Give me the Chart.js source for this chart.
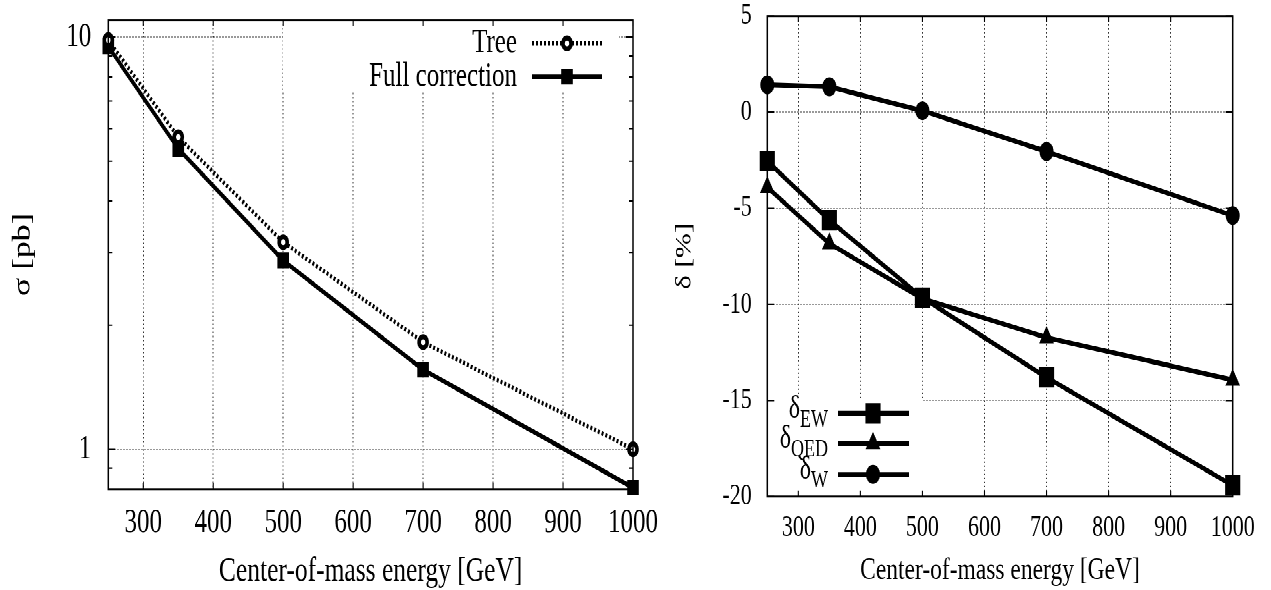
<!DOCTYPE html>
<html>
<head>
<meta charset="utf-8">
<script src="https://cdn.jsdelivr.net/npm/chart.js@4.4.0/dist/chart.umd.min.js"></script>
<style>
html,body{margin:0;padding:0;background:#fff;overflow:hidden;width:1271px;height:590px;}
#stage{position:absolute;left:0;top:0;width:1271px;height:437px;transform:scaleY(1.35);transform-origin:0 0;}
#c1{position:absolute;left:0;top:0;width:700px;height:437px;}
#c2{position:absolute;left:645px;top:0;width:626px;height:437px;}
</style>
</head>
<body>
<div id="stage">
<canvas id="c1" width="700" height="437"></canvas>
<canvas id="c2" width="626" height="437"></canvas>
</div>
<script>
// ---------- data ----------
const energies = [250, 350, 500, 700, 1000];
const sigmaTree = [9.83, 5.72, 3.18, 1.82, 1.00];
const sigmaFull = [9.49, 5.36, 2.87, 1.56, 0.807];
const deltaEW  = [-2.55, -5.62, -9.65, -13.8, -19.41];
const deltaQED = [-3.91, -6.84, -9.7, -11.72, -13.93];
const deltaW   = [1.42, 1.32, 0.07, -2.05, -5.38];

const xTickValues = [300, 400, 500, 600, 700, 800, 900, 1000];
const sigmaMajorTicks = [1, 10];
const sigmaMinorTicks = [0.9, 2, 3, 4, 5, 6, 7, 8, 9];
const deltaTickValues = [-20, -15, -10, -5, 0, 5];

const sigmaLabels = ['Tree', 'Full correction'];
const deltaMain = ['δ', 'δ', 'δ'];
const deltaSub = ['EW', 'QED', 'W'];
const xTitle = 'Center-of-mass energy [GeV]';
const sigmaTitle = 'σ [pb]';
const deltaTitle = 'δ [%]';

// ---------- helpers ----------
const FONT = 'Liberation Serif';
Chart.defaults.font.family = FONT;
Chart.defaults.color = '#000';

function pts(ys) { return energies.map((e, i) => ({x: e, y: ys[i]})); }

const gnuFrame = {
  id: 'gnuFrame',
  beforeDatasetsDraw(chart, args, o) {
    const ctx = chart.ctx;
    if (o.keyBox) {
      const b = o.keyBox;
      ctx.save();
      ctx.fillStyle = '#fff';
      ctx.fillRect(b.x0, b.y0, b.x1 - b.x0, b.y1 - b.y0);
      ctx.restore();
    }
  },
  afterDatasetsDraw(chart, args, o) {
    const {ctx, chartArea: a} = chart;
    const xs = chart.scales.x, ys = chart.scales.y;
    ctx.save();
    ctx.strokeStyle = '#000';
    ctx.setLineDash([]);
    ctx.lineWidth = 1.1;
    ctx.beginPath();
    o.xMajor.forEach(v => {
      const p = xs.getPixelForValue(v);
      ctx.moveTo(p, a.bottom); ctx.lineTo(p, a.bottom - o.tx);
      ctx.moveTo(p, a.top); ctx.lineTo(p, a.top + o.tx);
    });
    o.yMajor.forEach(v => {
      const p = ys.getPixelForValue(v);
      ctx.moveTo(a.left, p); ctx.lineTo(a.left + o.ty, p);
      ctx.moveTo(a.right, p); ctx.lineTo(a.right - o.ty, p);
    });
    (o.yMinor || []).forEach(v => {
      const p = ys.getPixelForValue(v);
      ctx.moveTo(a.left, p); ctx.lineTo(a.left + o.tm, p);
      ctx.moveTo(a.right, p); ctx.lineTo(a.right - o.tm, p);
    });
    ctx.stroke();
    ctx.lineWidth = 1.5;
    ctx.strokeRect(a.left, a.top, a.right - a.left, a.bottom - a.top);

    // key
    const k = o.key;
    if (k) {
      chart.data.datasets.forEach((ds, i) => {
        const y = k.rows[i];
        ctx.save();
        ctx.strokeStyle = '#000';
        ctx.lineWidth = ds.borderWidth;
        ctx.setLineDash(ds.borderDash || []);
        ctx.beginPath(); ctx.moveTo(k.lx0, y); ctx.lineTo(k.lx1, y); ctx.stroke();
        ctx.setLineDash([]);
        ctx.fillStyle = ds.pointBackgroundColor;
        ctx.strokeStyle = ds.pointBorderColor;
        ctx.lineWidth = ds.pointBorderWidth;
        Chart.helpers.drawPoint(ctx, {pointStyle: ds.pointStyle, radius: ds.pointRadius, borderWidth: ds.pointBorderWidth, rotation: 0}, k.mx, y);
        ctx.restore();
        // text
        ctx.save();
        ctx.fillStyle = '#000';
        ctx.textBaseline = 'middle';
        const main = k.main[i], sub = k.sub ? k.sub[i] : '';
        ctx.font = k.size + 'px "' + FONT + '"';
        const wMain = ctx.measureText(main).width;
        ctx.font = k.subSize + 'px "' + FONT + '"';
        const wSub = sub ? ctx.measureText(sub).width : 0;
        const x0 = k.tx - wMain - wSub;
        ctx.font = k.size + 'px "' + FONT + '"';
        ctx.fillText(main, x0, y + (k.mainDy || 0));
        if (sub) {
          ctx.font = k.subSize + 'px "' + FONT + '"';
          ctx.fillText(sub, x0 + wMain, y + k.subDy);
        }
        ctx.restore();
      });
    }
    ctx.restore();
  }
};

function fixX(h) {
  return function (s) { s.height = h; s.paddingLeft = 0; s.paddingRight = 0; };
}
function fixY(w) {
  return function (s) { s.width = w; s.paddingTop = 0; s.paddingBottom = 0; };
}
const GRID = 'rgba(0,0,0,0.8)';

// ---------- left chart ----------
new Chart(document.getElementById('c1'), {
  type: 'line',
  data: {
    datasets: [
      {label: sigmaLabels[0], data: pts(sigmaTree), borderColor: '#000', borderWidth: 3.2, borderDash: [2, 2],
       pointStyle: 'circle', pointRadius: 4, pointBorderWidth: 3.6, pointBackgroundColor: '#fff', pointBorderColor: '#000',
       tension: 0, clip: false, fill: false},
      {label: sigmaLabels[1], data: pts(sigmaFull), borderColor: '#000', borderWidth: 3.4,
       pointStyle: 'rect', pointRadius: 7.5, pointBorderWidth: 1, pointBackgroundColor: '#000', pointBorderColor: '#000',
       tension: 0, clip: false, fill: false}
    ]
  },
  options: {
    responsive: false, animation: false, devicePixelRatio: 2,
    layout: {padding: {left: 0, right: 67, top: 14.8, bottom: 0}},
    plugins: {
      legend: {display: false}, tooltip: {enabled: false},
      gnuFrame: {
        xMajor: xTickValues, yMajor: sigmaMajorTicks, yMinor: sigmaMinorTicks, tx: 4.5, ty: 7, tm: 4,
        keyBox: {x0: 283, x1: 619, y0: 14.8, y1: 68},
        key: {rows: [32.1, 56.8], lx0: 532, lx1: 602, mx: 567, tx: 517, main: sigmaLabels, size: 25, subSize: 18, mainDy: 0}
      }
    },
    scales: {
      x: {
        type: 'linear', min: 250, max: 1000,
        afterBuildTicks: s => { s.ticks = xTickValues.map(v => ({value: v})); },
        afterFit: fixX(437 - 362.4),
        ticks: {autoSkip: false, maxRotation: 0, padding: 10, font: {size: 25}, callback: v => String(v)},
        grid: {drawTicks: false, color: GRID, lineWidth: 1},
        border: {display: false, dash: [1, 2]},
        title: {display: true, text: xTitle, font: {size: 25.5, lineHeight: 1}, padding: {top: 0, bottom: 1.2}}
      },
      y: {
        type: 'logarithmic', min: 0.8, max: 11,
        afterBuildTicks: s => { s.ticks = sigmaMajorTicks.map(v => ({value: v})); },
        afterFit: fixY(108.3),
        ticks: {autoSkip: false, padding: 17, font: {size: 25}, callback: v => String(v)},
        grid: {drawTicks: false, color: GRID, lineWidth: 1},
        border: {display: false, dash: [1, 2]},
        title: {display: true, text: sigmaTitle, font: {size: 25, lineHeight: 1}, padding: {top: 10.5, bottom: 0}}
      }
    }
  },
  plugins: [gnuFrame]
});

// ---------- right chart ----------
new Chart(document.getElementById('c2'), {
  type: 'line',
  data: {
    datasets: [
      {label: 'δEW', data: pts(deltaEW), borderColor: '#000', borderWidth: 3.6,
       pointStyle: 'rect', pointRadius: 10, pointBorderWidth: 1, pointBackgroundColor: '#000', pointBorderColor: '#000',
       tension: 0, clip: false, fill: false},
      {label: 'δQED', data: pts(deltaQED), borderColor: '#000', borderWidth: 3.6,
       pointStyle: 'triangle', pointRadius: 7.5, pointBorderWidth: 1, pointBackgroundColor: '#000', pointBorderColor: '#000',
       tension: 0, clip: false, fill: false},
      {label: 'δW', data: pts(deltaW), borderColor: '#000', borderWidth: 3.6,
       pointStyle: 'circle', pointRadius: 6.5, pointBorderWidth: 1, pointBackgroundColor: '#000', pointBorderColor: '#000',
       tension: 0, clip: false, fill: false}
    ]
  },
  options: {
    responsive: false, animation: false, devicePixelRatio: 2,
    layout: {padding: {left: 0, right: 38.3, top: 11.85, bottom: 0}},
    plugins: {
      legend: {display: false}, tooltip: {enabled: false},
      gnuFrame: {
        xMajor: xTickValues, yMajor: deltaTickValues, tx: 4.5, ty: 7,
        keyBox: {x0: 122.3, x1: 278, y0: 296.3, y1: 367.9},
        key: {rows: [306.2, 328.4, 351.4], lx0: 193, lx1: 264, mx: 228, tx: 183, main: deltaMain, sub: deltaSub,
              size: 24, subSize: 18, mainDy: -3, subDy: 5}
      }
    },
    scales: {
      x: {
        type: 'linear', min: 250, max: 1000,
        afterBuildTicks: s => { s.ticks = xTickValues.map(v => ({value: v})); },
        afterFit: fixX(437 - 367.9),
        ticks: {autoSkip: false, maxRotation: 0, padding: 10.3, font: {size: 22}, callback: v => String(v)},
        grid: {drawTicks: false, color: GRID, lineWidth: 1},
        border: {display: false, dash: [1, 2]},
        title: {display: true, text: xTitle, font: {size: 23.5, lineHeight: 1}, padding: {top: 0, bottom: 2.3}}
      },
      y: {
        type: 'linear', min: -20, max: 5,
        afterBuildTicks: s => { s.ticks = deltaTickValues.map(v => ({value: v})); },
        afterFit: fixY(122.3),
        ticks: {autoSkip: false, padding: 15.6, font: {size: 22}, callback: v => String(v)},
        grid: {drawTicks: false, color: GRID, lineWidth: 1},
        border: {display: false, dash: [1, 2]},
        title: {display: true, text: deltaTitle, font: {size: 22, lineHeight: 1}, padding: {top: 28.5, bottom: 0}}
      }
    }
  },
  plugins: [gnuFrame]
});
</script>
</body>
</html>
